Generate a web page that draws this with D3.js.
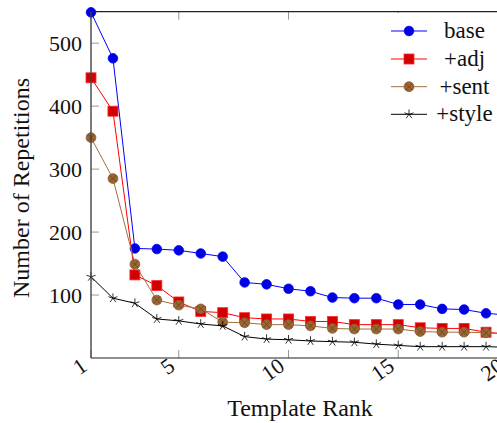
<!DOCTYPE html>
<html>
<head>
<meta charset="utf-8">
<script src="https://cdn.jsdelivr.net/npm/d3@7"></script>
<style>
  html, body { margin: 0; padding: 0; background: #fff; overflow: hidden; }
  svg { display: block; font-family: "Liberation Serif", "Times New Roman", serif; }
</style>
</head>
<body>
<svg id="chart" width="497" height="423"></svg>
<script>
const ranks = [1,2,3,4,5,6,7,8,9,10,11,12,13,14,15,16,17,18,19,20];
const base  = [549, 476, 174, 173, 171, 166, 161, 120, 117, 110, 106, 96, 95, 95, 85, 85, 78, 77, 71, 68];
const adj   = [445, 392, 132, 115, 89, 74, 72, 64, 62, 62, 58, 58, 53, 53, 53, 48, 47, 47, 41, 38];
const sent  = [350, 285, 149, 92, 84, 78, 57, 56, 53, 53, 51, 47, 46, 46, 46, 42, 41, 41, 40, 38];
const style = [129, 95, 87, 62, 59, 54, 51, 34, 30, 29, 27, 26, 25, 22, 20, 18, 18, 18, 18, 17];
const seriesNames = ["base", "+adj", "+sent", "+style"];
const xTicks = [1, 5, 10, 15, 20];
const yTicks = [100, 200, 300, 400, 500];
const xLabel = "Template Rank";
const yLabel = "Number of Repetitions";

const svg = d3.select("#chart");
const W = 497, H = 423;
svg.append("rect").attr("width", W).attr("height", H).attr("fill", "#fff");

const pLeft = 91, pTop = 11.7, pBottom = 358, pRight = 508;
const x = d3.scaleLinear().domain([1, 20]).range([pLeft, pRight]);
const y = d3.scaleLinear().domain([0, 550]).range([pBottom, pTop]);

const styles = [
  {data: base,  line: "#0000ff", mark: "circle"},
  {data: adj,   line: "#ff0000", mark: "square"},
  {data: sent,  line: "#a26f3d", mark: "otimes"},
  {data: style, line: "#000000", mark: "star"}
];

function drawMark(g, type, cx, cy) {
  if (type === "circle") {
    g.append("circle").attr("cx", cx).attr("cy", cy).attr("r", 4.8)
      .attr("fill", "#0000e0").attr("stroke", "#0000ff").attr("stroke-width", 0.8);
  } else if (type === "square") {
    g.append("rect").attr("x", cx - 5).attr("y", cy - 5).attr("width", 10).attr("height", 10)
      .attr("fill", "#d40000").attr("stroke", "#ff2a2a").attr("stroke-width", 0.8);
  } else if (type === "otimes") {
    const r = 4.9;
    g.append("circle").attr("cx", cx).attr("cy", cy).attr("r", r)
      .attr("fill", "#9a6634").attr("stroke", "#8a5a2c").attr("stroke-width", 0.8);
    const d = r * 0.707;
    g.append("path").attr("d", `M${cx-d},${cy-d}L${cx+d},${cy+d}M${cx-d},${cy+d}L${cx+d},${cy-d}`)
      .attr("stroke", "#6a4320").attr("stroke-width", 0.8).attr("fill", "none");
  } else if (type === "star") {
    const r = 4.8;
    let p = "";
    for (let k = 0; k < 5; k++) {
      const a = -Math.PI / 2 + k * 2 * Math.PI / 5;
      p += `M${cx},${cy}L${cx + r * Math.cos(a)},${cy + r * Math.sin(a)}`;
    }
    g.append("path").attr("d", p).attr("stroke", "#000").attr("stroke-width", 0.8).attr("fill", "none");
  }
}

// ticks (inside)
const tickG = svg.append("g");
yTicks.forEach(t => {
  tickG.append("line").attr("x1", pLeft).attr("x2", pLeft + 8).attr("y1", y(t)).attr("y2", y(t))
    .attr("stroke", "#999").attr("stroke-width", 1);
});
xTicks.forEach(t => {
  tickG.append("line").attr("x1", x(t)).attr("x2", x(t)).attr("y1", pBottom).attr("y2", pBottom - 8)
    .attr("stroke", "#999").attr("stroke-width", 1);
  tickG.append("line").attr("x1", x(t)).attr("x2", x(t)).attr("y1", pTop).attr("y2", pTop + 8)
    .attr("stroke", "#999").attr("stroke-width", 1);
});

// series
const line = d3.line().x((d, i) => x(ranks[i])).y(d => y(d));
styles.forEach(s => {
  const g = svg.append("g");
  g.append("path").datum(s.data).attr("d", line).attr("fill", "none")
    .attr("stroke", s.line).attr("stroke-width", 1);
  s.data.forEach((v, i) => drawMark(g, s.mark, x(ranks[i]), y(v)));
});

// axis lines
svg.append("line").attr("x1", pLeft).attr("x2", W + 20).attr("y1", pBottom).attr("y2", pBottom)
  .attr("stroke", "#222").attr("stroke-width", 1.2);
svg.append("line").attr("x1", pLeft).attr("x2", W + 20).attr("y1", pTop).attr("y2", pTop)
  .attr("stroke", "#222").attr("stroke-width", 1.2);
svg.append("line").attr("x1", pLeft).attr("x2", pLeft).attr("y1", pTop).attr("y2", pBottom)
  .attr("stroke", "#444").attr("stroke-width", 1.4);

// tick labels
const yAxisG = svg.append("g");
yTicks.forEach(t => {
  yAxisG.append("text").attr("x", 82).attr("y", y(t)).attr("dy", "0.35em")
    .attr("text-anchor", "end").attr("font-size", 22).attr("fill", "#111").text(t);
});
const xAxisG = svg.append("g");
xTicks.forEach(t => {
  xAxisG.append("text")
    .attr("transform", `translate(${x(t) - 7},${pBottom + 5}) rotate(-35)`)
    .attr("dy", "0.35em").attr("text-anchor", "end").attr("font-size", 22).attr("fill", "#111").text(t);
});

// axis labels
svg.append("text").attr("x", 300).attr("y", 416).attr("text-anchor", "middle")
  .attr("font-size", 24).attr("fill", "#111").text(xLabel);
svg.append("text").attr("transform", "translate(29,188) rotate(-90)").attr("text-anchor", "middle")
  .attr("font-size", 24).attr("fill", "#111").text(yLabel);

// legend
const lg = svg.append("g");
lg.append("rect").attr("x", 383).attr("y", 13).attr("width", 140).attr("height", 115).attr("fill", "#fff");
const rowY = [31, 59, 86.7, 114.3];
styles.forEach((s, i) => {
  lg.append("line").attr("x1", 391).attr("x2", 427).attr("y1", rowY[i]).attr("y2", rowY[i])
    .attr("stroke", s.line).attr("stroke-width", 1);
  drawMark(lg, s.mark, 409, rowY[i]);
  lg.append("text").attr("x", 464.5).attr("y", rowY[i]).attr("dy", "0.3em")
    .attr("text-anchor", "middle").attr("font-size", 23).attr("fill", "#111").text(seriesNames[i]);
});
</script>
</body>
</html>
